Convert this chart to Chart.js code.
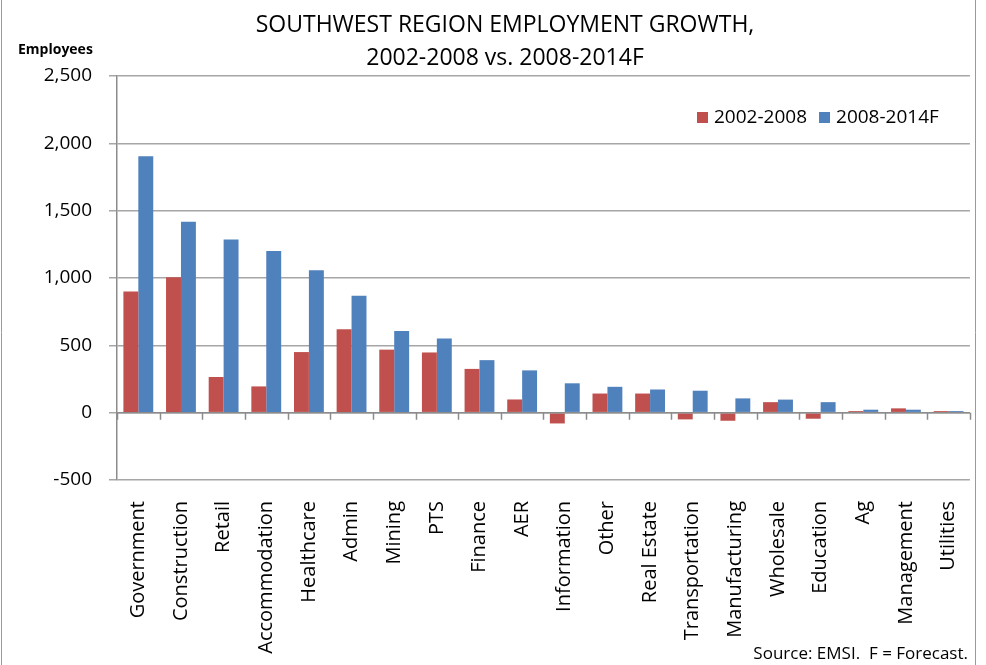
<!DOCTYPE html>
<html>
<head>
<meta charset="utf-8">
<script src="https://cdn.jsdelivr.net/npm/chart.js@4.4.1/dist/chart.umd.min.js"></script>
<style>
    html, body { margin: 0; padding: 0; background: #fff; }
    #wrap { width: 986px; height: 665px; position: relative; }
</style>
</head>
<body>
<div id="wrap"><canvas id="growthChart" width="986" height="665"></canvas></div>
<script>
const industries = ["Government", "Construction", "Retail", "Accommodation", "Healthcare", "Admin", "Mining", "PTS",
    "Finance", "AER", "Information", "Other", "Real Estate", "Transportation", "Manufacturing", "Wholesale",
    "Education", "Ag", "Management", "Utilities"];
const growth2002_2008 = [900, 1005, 265, 195, 450, 620, 468, 447, 325, 98, -80, 142, 142, -50, -60, 78, -45, 12, 32, 12];
const growth2008_2014F = [1905, 1418, 1285, 1200, 1057, 868, 607, 550, 390, 314, 218, 192, 172, 163, 106, 97, 78, 22, 22, 12];
const yTicks = [-500, 0, 500, 1000, 1500, 2000, 2500];

const RED = "#C0504D";
const BLUE = "#4F81BD";
const FONT = "'Open Sans', 'Liberation Sans', sans-serif";

// Title, axis caption, legend, source note, zero-line ticks and frame lines
const decorations = {
    id: "decorations",
    afterDatasetsDraw(chart) {
        const ctx = chart.ctx;
        const x = chart.scales.x;
        const y0 = chart.scales.y.getPixelForValue(0);
        ctx.save();
        ctx.strokeStyle = "#8c8c8c";
        ctx.lineWidth = 1.5;
        ctx.beginPath();
        ctx.moveTo(chart.chartArea.left, y0);
        ctx.lineTo(chart.chartArea.right, y0);
        const step = x.getPixelForTick(1) - x.getPixelForTick(0);
        for (let i = 0; i <= industries.length; i++) {
            const px = Math.round(x.getPixelForTick(0) - step / 2 + i * step) + 0.5;
            ctx.moveTo(px, y0);
            ctx.lineTo(px, y0 + 7);
        }
        ctx.stroke();
        ctx.restore();
    },
    afterDraw(chart) {
        const ctx = chart.ctx;
        ctx.save();
        ctx.fillStyle = "#000";
        ctx.textAlign = "center";
        ctx.textBaseline = "middle";
        ctx.font = "23px " + FONT;
        ctx.fillText("SOUTHWEST REGION EMPLOYMENT GROWTH,", 505, 25);
        ctx.fillText("2002-2008 vs. 2008-2014F", 505, 58);
        ctx.font = "bold 14px " + FONT;
        ctx.textAlign = "left";
        ctx.fillText("Employees", 18, 50);
        ctx.font = "17px " + FONT;
        ctx.textAlign = "right";
        ctx.fillText("Source: EMSI.  F = Forecast.", 968, 654);

        // legend
        ctx.font = "19px " + FONT;
        ctx.textAlign = "left";
        let lx = 697;
        const ly = 117;
        chart.data.datasets.forEach(ds => {
            ctx.fillStyle = ds.backgroundColor;
            ctx.fillRect(lx, ly - 5, 11, 11);
            ctx.fillStyle = "#000";
            ctx.fillText(ds.label, lx + 17, ly + 1);
            lx += 17 + ctx.measureText(ds.label).width + 12;
        });

        ctx.strokeStyle = "#9a9a9a";
        ctx.lineWidth = 1;
        ctx.beginPath();
        ctx.moveTo(1.5, 0); ctx.lineTo(1.5, 665);
        ctx.moveTo(975.5, 0); ctx.lineTo(975.5, 665);
        ctx.stroke();
        ctx.restore();
    }
};

new Chart(document.getElementById("growthChart").getContext("2d"), {
    type: "bar",
    data: {
        labels: industries,
        datasets: [
            { label: "2002-2008", data: growth2002_2008, backgroundColor: RED },
            { label: "2008-2014F", data: growth2008_2014F, backgroundColor: BLUE },
        ],
    },
    options: {
        responsive: false,
        animation: false,
        layout: { padding: { top: 76, right: 16, left: 10, bottom: 0 } },
        datasets: { bar: { categoryPercentage: 0.7, barPercentage: 1.0 } },
        plugins: {
            title: { display: false },
            tooltip: { enabled: false },
            legend: { display: false },
        },
        scales: {
            x: {
                grid: { display: false },
                border: { display: false },
                ticks: {
                    color: "#000",
                    autoSkip: false,
                    minRotation: 90,
                    maxRotation: 90,
                    padding: 13,
                    font: { family: FONT, size: 20 },
                },
                afterFit(scale) { scale.height = 185; },
            },
            y: {
                min: -500,
                max: 2500,
                afterBuildTicks(scale) { scale.ticks = yTicks.map(v => ({ value: v })); },
                grid: { color: "#a6a6a6", lineWidth: 1.5, tickLength: 8 },
                border: { color: "#8c8c8c", width: 1.5 },
                ticks: {
                    color: "#000",
                    padding: 17,
                    font: { family: FONT, size: 19 },
                    callback: v => v.toLocaleString("en-US"),
                },
                afterFit(scale) { scale.width = 107; },
            },
        },
    },
    plugins: [decorations],
});
</script>
</body>
</html>
